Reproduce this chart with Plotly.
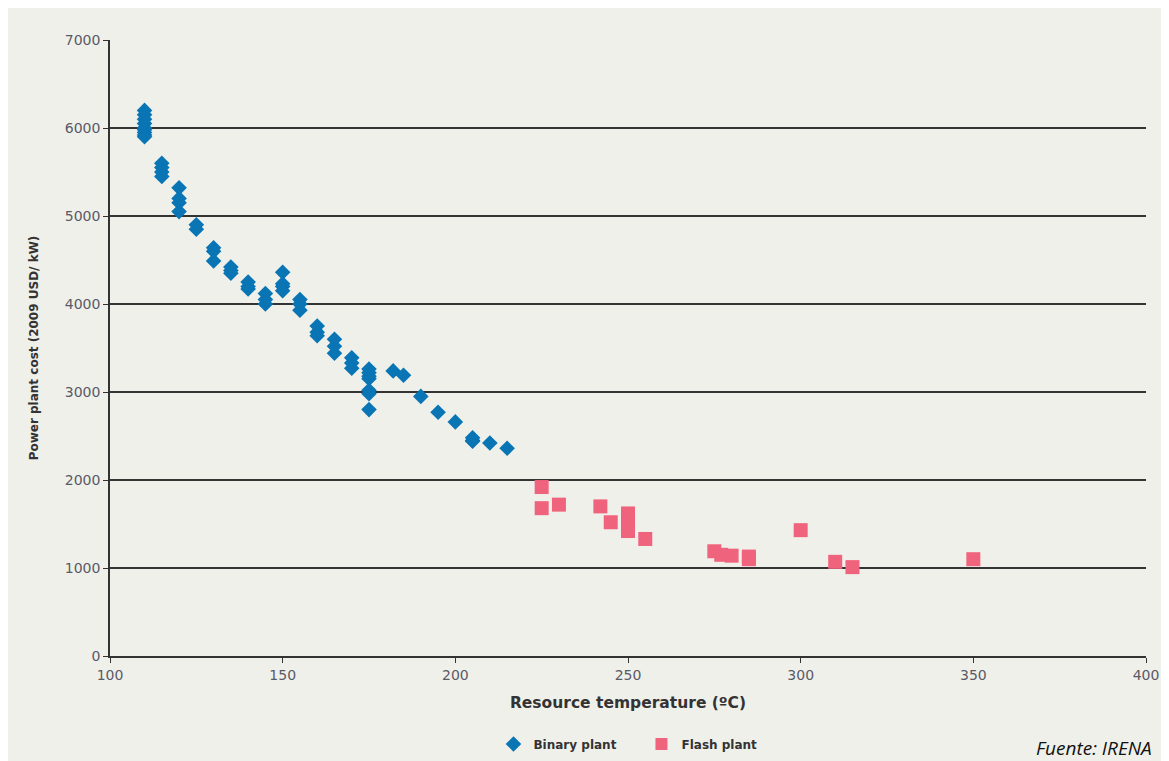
import plotly.graph_objects as go

# Binary plant data (temperature °C, cost USD/kW)
binary_temp = [110]*9 + [115]*4 + [120]*4 + [125]*2 + [130]*3 + [135]*3 + [140]*3 + [145]*3 + \
              [150]*4 + [155]*3 + [160]*3 + [165]*3 + [170]*3 + [175]*7 + [182, 185, 190, 195, 200] + \
              [205]*3 + [210, 215]
binary_cost = [6200, 6150, 6100, 6050, 6000, 5980, 5950, 5920, 5900,
               5600, 5550, 5500, 5450,
               5320, 5200, 5150, 5050,
               4900, 4850,
               4640, 4600, 4490,
               4420, 4380, 4350,
               4250, 4200, 4170,
               4120, 4050, 4000,
               4360, 4230, 4200, 4150,
               4050, 4000, 3930,
               3750, 3680, 3640,
               3600, 3520, 3440,
               3390, 3330, 3270,
               3260, 3220, 3180, 3150, 3020, 2980, 2800,
               3240, 3190, 2950, 2770, 2660,
               2480, 2450, 2440,
               2420, 2360]

# Flash plant data
flash_temp = [225, 225, 230, 242, 245, 250, 250, 250, 255, 275, 277, 280, 285, 285, 300, 310, 315, 350]
flash_cost = [1920, 1680, 1720, 1700, 1520, 1620, 1520, 1420, 1330, 1190, 1150, 1140, 1130, 1100, 1430, 1070, 1010, 1100]

x_ticks = [100, 150, 200, 250, 300, 350, 400]
y_ticks = [0, 1000, 2000, 3000, 4000, 5000, 6000, 7000]

BG = "#F0F0EB"
FONT = "DejaVu Sans"

fig = go.Figure()
fig.add_trace(go.Scatter(x=binary_temp, y=binary_cost, mode="markers", name="Binary plant",
                         marker=dict(symbol="diamond", size=12, color="#0A75B5", line=dict(width=0))))
fig.add_trace(go.Scatter(x=flash_temp, y=flash_cost, mode="markers", name="Flash plant",
                         marker=dict(symbol="square", size=14, color="#F0637D", line=dict(width=0))))

fig.update_layout(
    width=1153, height=753,
    paper_bgcolor=BG, plot_bgcolor=BG,
    margin=dict(l=102, r=15, t=32, b=105, autoexpand=False),
    font=dict(family=FONT, size=13, color="#333333"),
    showlegend=True,
    legend=dict(orientation="h", x=0.513, xanchor="center", yref="container", y=0.0226, yanchor="middle",
                font=dict(family=FONT, size=12, color="#333333", weight="bold"),
                bgcolor="rgba(0,0,0,0)", itemsizing="constant", entrywidth=103),
    xaxis=dict(range=[100, 400], tickvals=x_ticks, ticktext=[str(v) for v in x_ticks],
               showgrid=False, zeroline=False, showline=True, linecolor="#333333", linewidth=1.5,
               ticks="outside", ticklen=5, tickcolor="#333333", tickwidth=1.2, automargin=False,
               tickfont=dict(family=FONT, size=14, color="#5A5A66"),
               title=dict(text="Resource temperature (ºC)", standoff=16,
                          font=dict(family=FONT, size=15.5, color="#333333", weight="bold"))),
    yaxis=dict(range=[0, 7000], tickvals=y_ticks, ticktext=[str(v) for v in y_ticks],
               showgrid=True, gridcolor="#333333", gridwidth=1.5, zeroline=False,
               showline=True, linecolor="#333333", linewidth=1.5, automargin=False,
               ticks="outside", ticklen=5, tickcolor="#333333", tickwidth=1.2,
               tickfont=dict(family=FONT, size=14, color="#5A5A66"),
               title=dict(text="Power plant cost (2009 USD/ kW)", standoff=24,
                          font=dict(family=FONT, size=12, color="#333333", weight="bold"))),
    annotations=[dict(text="<i>Fuente: IRENA</i>", xref="paper", yref="paper",
                      x=1.008, y=-0.149, xanchor="right", yanchor="middle", showarrow=False,
                      font=dict(family="Open Sans", size=19, color="#111111"))],
)

fig.write_html("out.html")
